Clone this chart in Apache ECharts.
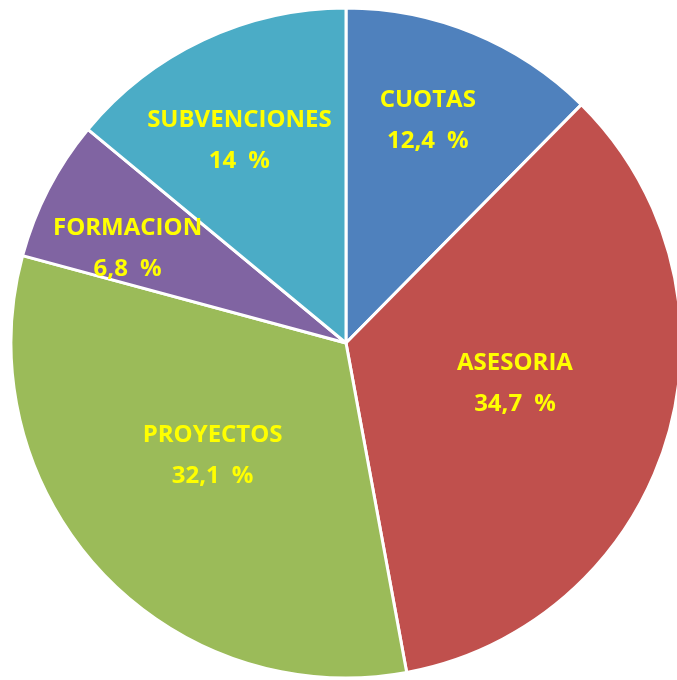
<!DOCTYPE html>
<html>
<head>
<meta charset="utf-8">
<script src="https://cdn.jsdelivr.net/npm/echarts@6/dist/echarts.min.js"></script>
<style>
html,body{margin:0;padding:0;background:#fff;}
#chart{width:677px;height:680px;}
</style>
</head>
<body>
<div id="chart"></div>
<script>
var categories = ['CUOTAS', 'ASESORIA', 'PROYECTOS', 'FORMACION', 'SUBVENCIONES'];
var values = [12.4, 34.7, 32.1, 6.8, 14];
var colors = ['#4F81BD', '#C0504D', '#9BBB59', '#8064A2', '#4BACC6'];
// label nudges from the default inside position (layout only)
var labelDx = [17, 6, -8, -67, -34];
var labelDy = [-65, -9, -3, -16, -48];

var chart = echarts.init(document.getElementById('chart'), null, {renderer: 'canvas'});
var data = categories.map(function (c, i) {
  return { name: c, value: values[i], itemStyle: { color: colors[i] } };
});
chart.setOption({
  animation: false,
  backgroundColor: '#ffffff',
  series: [{
    type: 'pie',
    center: [346, 343],
    radius: 335,
    startAngle: 90,
    clockwise: true,
    data: data,
    itemStyle: { borderColor: '#ffffff', borderWidth: 3 },
    label: {
      show: true,
      position: 'inside',
      color: '#FFFF00',
      fontFamily: 'Open Sans',
      fontWeight: 'bold',
      fontSize: 24,
      lineHeight: 41,
      align: 'center',
      formatter: function (p) {
        return p.name + '\n' + String(p.value).replace('.', ',') + '\u2002%';
      }
    },
    labelLine: { show: false },
    emphasis: { disabled: true },
    labelLayout: function (p) {
      return { dx: labelDx[p.dataIndex], dy: labelDy[p.dataIndex] };
    }
  }]
});
</script>
</body>
</html>
